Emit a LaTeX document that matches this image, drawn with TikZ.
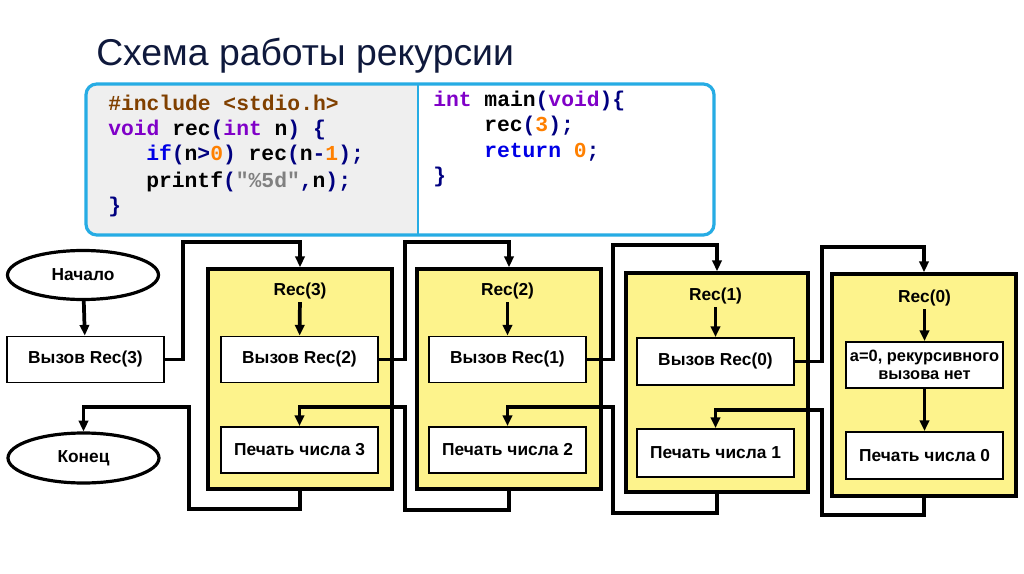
\documentclass[tikz,border=0pt]{standalone}
\usepackage{fontspec}
\setmainfont{Liberation Sans}
\setmonofont{Liberation Mono}
\usetikzlibrary{arrows.meta,shapes.geometric}
\definecolor{recyellow}{RGB}{253,243,140}
\definecolor{codeblue}{RGB}{38,172,228}
\definecolor{codegray}{RGB}{239,239,239}
\definecolor{titlecol}{RGB}{15,25,60}
\definecolor{cprep}{RGB}{128,64,0}
\definecolor{ctyp}{RGB}{128,0,200}
\definecolor{ckwd}{RGB}{0,0,230}
\definecolor{cnum}{RGB}{255,128,0}
\definecolor{cop}{RGB}{0,0,128}
\definecolor{cstr}{RGB}{128,128,128}
\newcommand{\Op}[1]{{\color{cop}#1}}
\newcommand{\Ty}[1]{{\color{ctyp}#1}}
\newcommand{\Kw}[1]{{\color{ckwd}#1}}
\newcommand{\Nm}[1]{{\color{cnum}#1}}
\begin{document}
\begin{tikzpicture}[x=0.75pt,y=-0.75pt,
  codeline/.style={anchor=base west,inner sep=0pt,font=\ttfamily\bfseries\fontsize{16}{18}\selectfont},
  recbox/.style={draw,line width=2.8pt,fill=recyellow,minimum width=184*0.75pt,minimum height=220*0.75pt,inner sep=0pt},
  inbox/.style={draw,line width=1.4pt,fill=white,minimum width=157*0.75pt,minimum height=46*0.75pt,inner sep=1pt,font=\bfseries\fontsize{13}{15}\selectfont},
  term/.style={ellipse,draw,line width=2.4pt,fill=white,minimum width=151*0.75pt,minimum height=49*0.75pt,inner sep=0pt,font=\bfseries\fontsize{13}{15}\selectfont},
  lbl/.style={inner sep=2pt,font=\bfseries\fontsize{13}{15}\selectfont},
  conn/.style={line width=2.8pt},
  arr/.style={conn,-{Triangle[length=8pt,width=7pt]}}]
\useasboundingbox (0,0) rectangle (1024,574);
\fill[white] (0,0) rectangle (1024,574);

% title
\node[anchor=base west,inner sep=0pt,text=titlecol,font=\fontsize{28}{32}\selectfont] (title) at (96,66) {Схема работы рекурсии};

% code box
\begin{scope}
\clip[rounded corners=8pt] (86,84) rectangle (714,235);
\fill[white] (86,84) rectangle (714,235);
\fill[codegray] (86,84) rectangle (418,235);
\end{scope}
\draw[codeblue,line width=2.4pt,rounded corners=8pt] (86,84) rectangle (714,235);
\draw[codeblue,line width=1.8pt] (418,84) -- (418,235);

\node[codeline] (k1) at (108,111) {\color{cprep}\#include <stdio.h>};
\node[codeline] (k2) at (108,136) {\Ty{void} rec\Op{(}\Ty{int} n\Op{)} \Op{\{}};
\node[codeline] (k3) at (146,161) {\Kw{if}\Op{(}n\Op{>}\Nm{0}\Op{)} rec\Op{(}n\Op{-}\Nm{1}\Op{);}};
\node[codeline] (k4) at (146,187) {printf\Op{(}{\color{cstr}"\%5d"}\Op{,}n\Op{);}};
\node[codeline] (k5) at (108,212) {\Op{\}}};
\node[codeline] (m1) at (433,107) {\Ty{int} main\Op{(}\Ty{void}\Op{)\{}};
\node[codeline] (m2) at (484,132) {rec\Op{(}\Nm{3}\Op{);}};
\node[codeline] (m3) at (484,158) {\Kw{return} \Nm{0}\Op{;}};
\node[codeline] (m4) at (433,183) {\Op{\}}};

% left column
\node[term] (start) at (83,275) {Начало};
\node[inbox] (v3) at (85.5,359.5) {Вызов Rec(3)};
\node[term,minimum height=50*0.75pt] (end) at (83.5,458) {Конец};

% boxes
\node[recbox] (b3) at (300,379) {};
\node[recbox] (b2) at (509,379) {};
\node[recbox,minimum width=182*0.75pt,minimum height=219*0.75pt] (b1) at (717,382.5) {};
\node[recbox,minimum height=222*0.75pt] (b0) at (924,385) {};

% labels
\node[lbl] (l3) at (300,291) {Rec(3)};
\node[lbl] (l2) at (507.5,291) {Rec(2)};
\node[lbl] (l1) at (715.5,296) {Rec(1)};
\node[lbl] (l0) at (924.5,298) {Rec(0)};

% inner boxes
\node[inbox] (v2) at (299.5,359.5) {Вызов Rec(2)};
\node[inbox] (p3) at (299.5,450) {Печать числа 3};
\node[inbox] (v1) at (507.5,359.5) {Вызов Rec(1)};
\node[inbox] (p2) at (507.5,450) {Печать числа 2};
\node[inbox,minimum height=47*0.75pt] (v0) at (715.5,361.5) {Вызов Rec(0)};
\node[inbox,minimum height=48*0.75pt] (p1) at (715.5,453) {Печать числа 1};
\node[inbox,align=center,inner sep=0pt,font=\bfseries\fontsize{12.3}{14}\selectfont] (n0) at (924.5,365) {a=0, рекурсивного\\вызова нет};
\node[inbox,minimum height=47*0.75pt] (p0) at (924.5,455.5) {Печать числа 0};

% junction coordinates
\coordinate (j3) at (183,242);
\coordinate (j2) at (405,242);
\coordinate (j1) at (613,245);
\coordinate (j0) at (822,247);
\coordinate (r0a) at (822,515);
\coordinate (r0b) at (822,410);
\coordinate (r1a) at (613,513);
\coordinate (r1b) at (613,407);
\coordinate (r2a) at (405,510);
\coordinate (r2b) at (405,407);
\coordinate (r3a) at (189,509);
\coordinate (r3b) at (189,407);

% connectors
\draw[arr] (start) -- (v3);
\draw[arr] (v3.east) -| (j3) -| (b3.north);
\draw[arr] (l3) -- (v2);
\draw[arr] (v2.east) -| (j2) -| (b2.north);
\draw[arr] (l2) -- (v1);
\draw[arr] (v1.east) -| (j1) -| (b1.north);
\draw[arr] (l1) -- (v0);
\draw[arr] (v0.east) -| (j0) -| (b0.north);
\draw[arr] (l0) -- (n0);
\draw[arr] (n0) -- (p0);
\draw[arr] (b0.south) |- (r0a) -- (r0b) -| (p1.north);
\draw[arr] (b1.south) |- (r1a) -- (r1b) -| (p2.north);
\draw[arr] (b2.south) |- (r2a) -- (r2b) -| (p3.north);
\draw[arr] (b3.south) |- (r3a) -- (r3b) -| (end.north);
\end{tikzpicture}
\end{document}
